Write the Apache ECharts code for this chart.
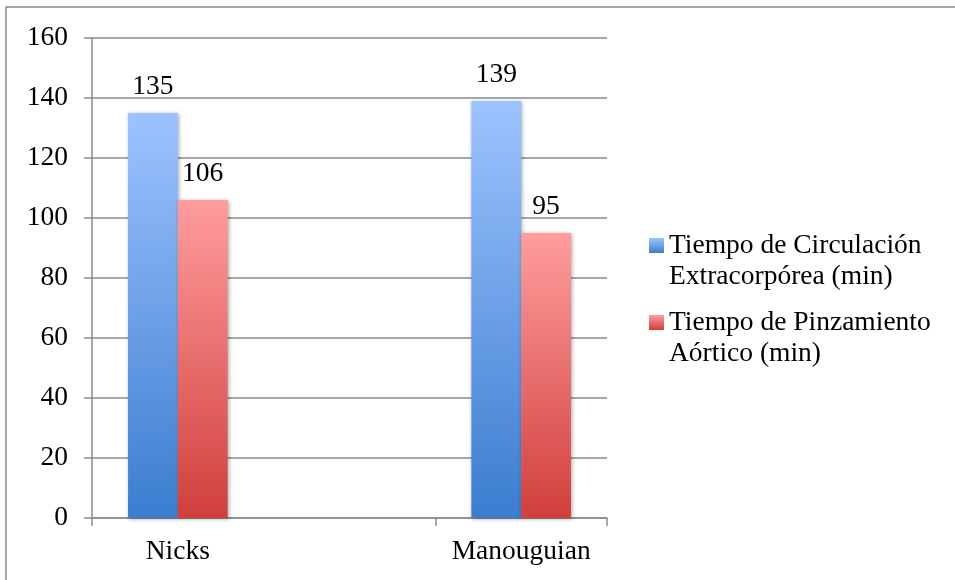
<!DOCTYPE html>
<html>
<head>
<meta charset="utf-8">
<script src="https://cdn.jsdelivr.net/npm/echarts@6/dist/echarts.min.js"></script>
<style>
  html, body { margin: 0; padding: 0; background: #fff; }
  #chart { width: 955px; height: 580px; }
</style>
</head>
<body>
<div id="chart"></div>
<script>
// Groups on the x axis (the middle slot is left empty as a spacer)
const categories = ['Nicks', '', 'Manouguian'];
// Series names (legend text)
const seriesNames = ['Tiempo de Circulación\nExtracorpórea (min)', 'Tiempo de Pinzamiento\nAórtico (min)'];
// Minutes per group
const circulacion = [135, null, 139];
const pinzamiento = [106, null, 95];
// Y axis range
const yMin = 0, yMax = 160, yStep = 20;

const FONT = '"Liberation Serif", "Times New Roman", serif';
const FS = 27.5;
const GRAY = '#8a8a8a';

function grad(top, bottom) {
  return new echarts.graphic.LinearGradient(0, 0, 0, 1, [
    { offset: 0, color: top },
    { offset: 1, color: bottom }
  ]);
}

const blue = grad('#9dc3ff', '#3b7dcf');
const red = grad('#ff9d9d', '#d03f3c');

const chart = echarts.init(document.getElementById('chart'), null, { renderer: 'canvas' });

const labelStyle = {
  show: true,
  position: 'top',
  distance: 12,
  color: '#000',
  fontFamily: FONT,
  fontSize: FS
};

const barStyle = (c) => ({
  color: c,
  shadowColor: 'rgba(0,0,0,0.35)',
  shadowBlur: 4,
  shadowOffsetX: 1,
  shadowOffsetY: 1
});

chart.setOption({
  animation: false,
  backgroundColor: '#fff',
  textStyle: { fontFamily: FONT },
  graphic: [{
    type: 'rect',
    shape: { x: 6, y: 7, width: 1000, height: 700 },
    style: { fill: 'none', stroke: GRAY, lineWidth: 1.5 },
    z: -1
  }],
  grid: { left: 92, right: 348, top: 38, bottom: 62, containLabel: false },
  legend: {
    orient: 'vertical',
    left: 644,
    top: 194,
    itemWidth: 15,
    itemHeight: 15,
    itemGap: -16,
    icon: 'rect',
    formatter: (name) => '\n' + name,
    textStyle: {
      color: '#000',
      fontFamily: FONT,
      fontSize: FS,
      lineHeight: 31
    },
    data: seriesNames
  },
  xAxis: {
    type: 'category',
    data: categories,
    axisLine: { show: true, lineStyle: { color: GRAY, width: 1.5 } },
    axisTick: { show: true, length: 8, alignWithLabel: false, lineStyle: { color: GRAY, width: 1.5 } },
    axisLabel: { color: '#000', fontFamily: FONT, fontSize: FS, margin: 20 },
    splitLine: { show: false }
  },
  yAxis: {
    type: 'value',
    min: yMin,
    max: yMax,
    interval: yStep,
    axisLine: { show: true, lineStyle: { color: GRAY, width: 1.5 } },
    axisTick: { show: true, length: 8, lineStyle: { color: GRAY, width: 1.5 } },
    axisLabel: { color: '#000', fontFamily: FONT, fontSize: FS, margin: 24 },
    splitLine: { show: true, lineStyle: { color: GRAY, width: 1.5 } }
  },
  series: [
    {
      name: seriesNames[0],
      type: 'bar',
      data: circulacion,
      barGap: '0%',
      barCategoryGap: '42%',
      itemStyle: barStyle(blue),
      label: labelStyle
    },
    {
      name: seriesNames[1],
      type: 'bar',
      data: pinzamiento,
      itemStyle: barStyle(red),
      label: labelStyle
    }
  ]
});
</script>
</body>
</html>
